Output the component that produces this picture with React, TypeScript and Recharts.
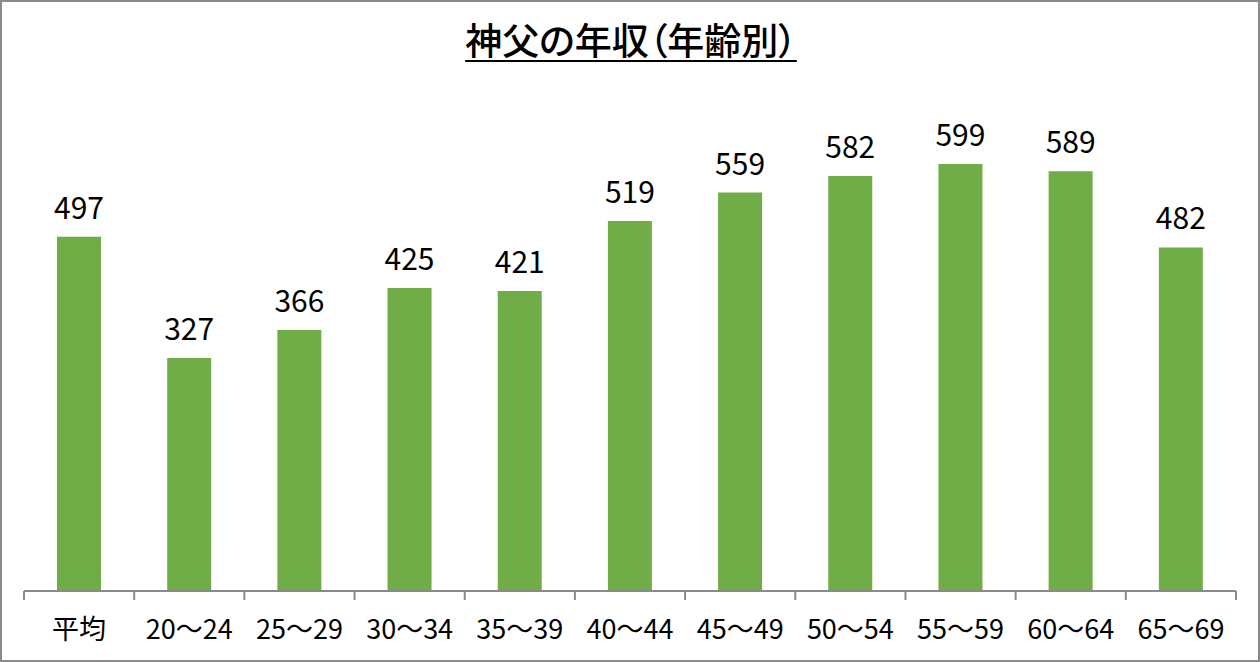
import React from "react";
import { BarChart, Bar, XAxis, YAxis, LabelList } from "recharts";

const categories = ["平均", "20～24", "25～29", "30～34", "35～39", "40～44", "45～49", "50～54", "55～59", "60～64", "65～69"];
const incomes = [497, 327, 366, 425, 421, 519, 559, 582, 599, 589, 482];
const title = "神父の年収（年齢別）";

const data = categories.map((name, i) => ({ name, value: incomes[i] }));

const FONT = '"Noto Sans CJK JP", "Noto Sans", sans-serif';
const AXIS_COLOR = "#8a8a8a";

const CategoryTick = (props: any) => {
  const { x, y, payload, index, width } = props;
  const half =
    payload && typeof payload.offset === "number" && payload.offset > 0
      ? payload.offset
      : width / categories.length / 2;
  const isLast = index === categories.length - 1;
  return (
    <g>
      <line x1={x - half} y1={y} x2={x - half} y2={y + 9} stroke={AXIS_COLOR} strokeWidth={2} />
      {isLast && <line x1={x + half} y1={y} x2={x + half} y2={y + 9} stroke={AXIS_COLOR} strokeWidth={2} />}
      <text x={x} y={y + 48} textAnchor="middle" fontSize={27} fill="#000" fontFamily={FONT}>
        {payload.value}
      </text>
    </g>
  );
};

export default function App() {
  return (
    <div style={{ position: "absolute", left: 0, top: 0, width: 1260, height: 662, background: "#fff" }}>
      <BarChart
        width={1260}
        height={662}
        data={data}
        margin={{ top: 92, right: 24, bottom: 0, left: 24 }}
        barCategoryGap={0}
      >
        <YAxis hide domain={[0, 700]} />
        <XAxis
          dataKey="name"
          height={71}
          tickLine={false}
          tickSize={0}
          tickMargin={0}
          interval={0}
          axisLine={{ stroke: AXIS_COLOR, strokeWidth: 2 }}
          tick={<CategoryTick />}
        />
        <Bar dataKey="value" fill="#70AD47" barSize={44} isAnimationActive={false}>
          <LabelList dataKey="value" position="top" offset={18} fontSize={30} fill="#000" fontFamily={FONT} />
        </Bar>
      </BarChart>
      <div
        style={{
          position: "absolute",
          left: 0,
          width: 1262,
          top: 21,
          textAlign: "center",
          fontFamily: FONT,
          fontSize: 37,
          fontWeight: 500,
          lineHeight: "36px",
          color: "#000",
          textDecoration: "underline",
          textUnderlineOffset: "5px",
          textDecorationThickness: "2px",
          fontFeatureSettings: '"palt"',
          pointerEvents: "none",
        }}
      >
        {title}
      </div>
      <div
        style={{
          position: "absolute",
          left: 0,
          top: 0,
          width: 1260,
          height: 662,
          boxSizing: "border-box",
          border: `2px solid ${AXIS_COLOR}`,
          pointerEvents: "none",
        }}
      />
    </div>
  );
}
